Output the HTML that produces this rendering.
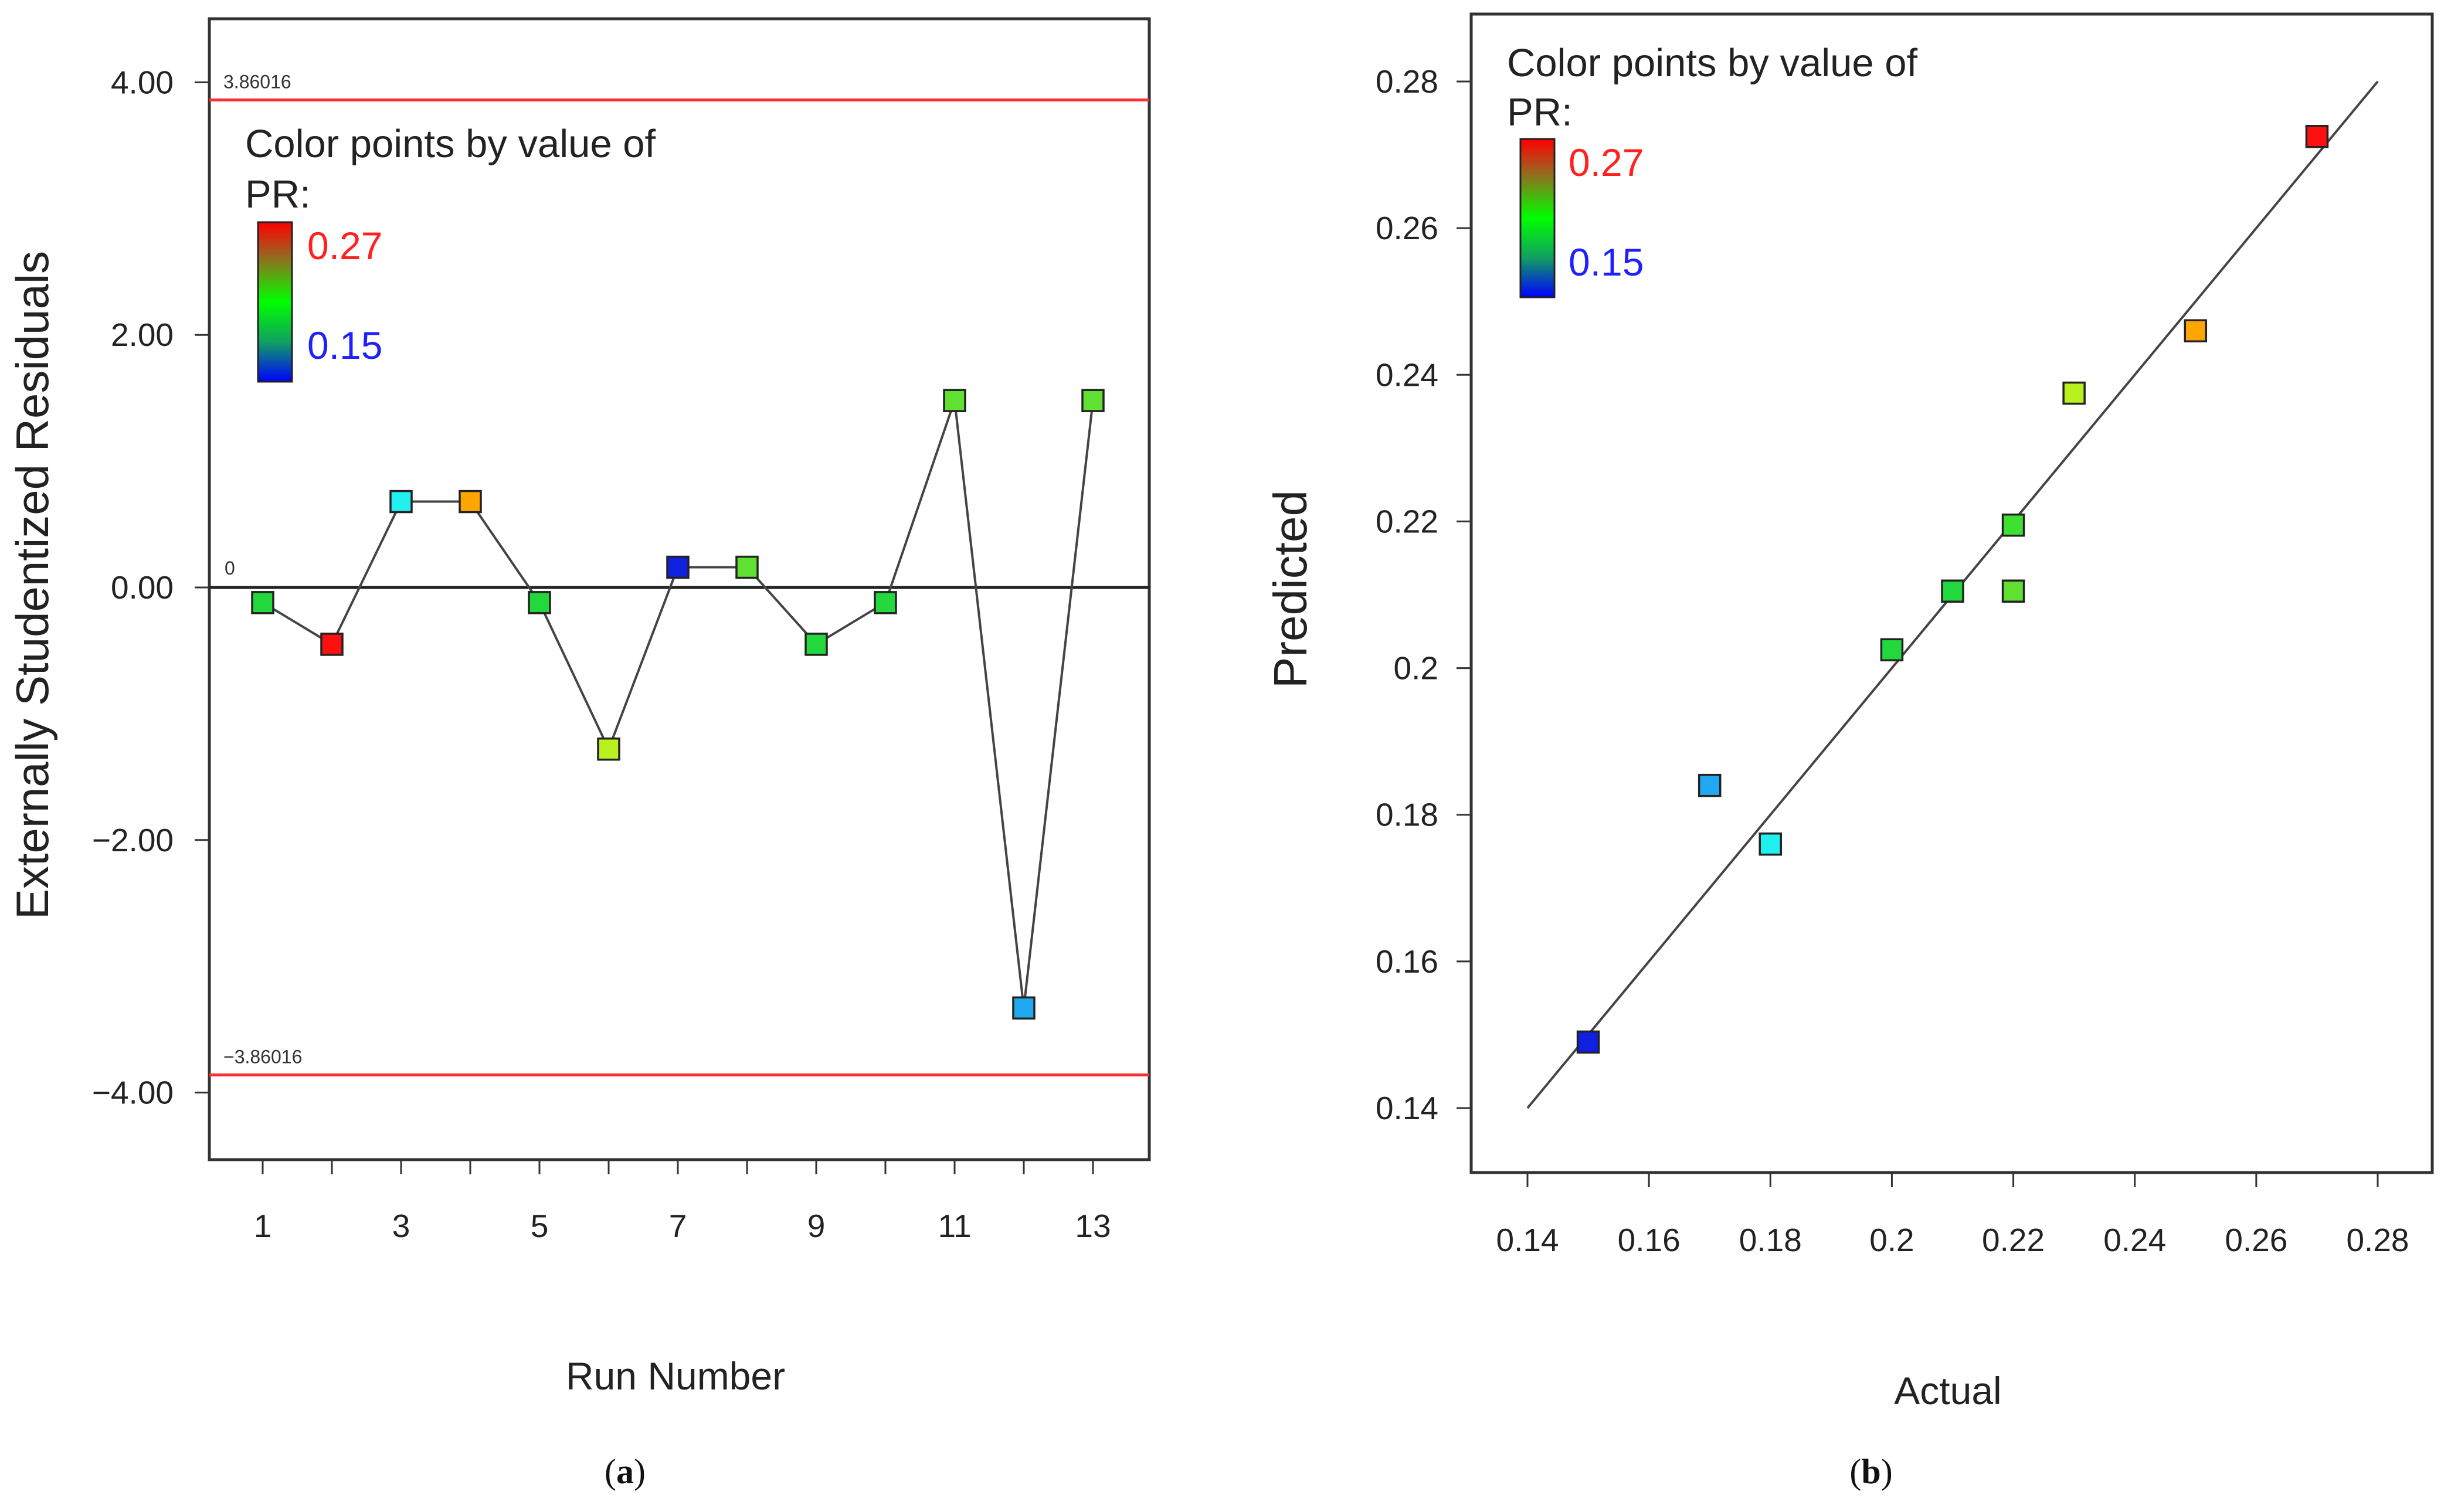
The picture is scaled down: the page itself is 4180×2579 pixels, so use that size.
<!DOCTYPE html>
<html><head><meta charset="utf-8"><style>
html,body{margin:0;padding:0;background:#fff;}
svg{display:block;font-family:"Liberation Sans",Arial,sans-serif;}
</style></head><body>
<svg id="chart" width="4180" height="2579" viewBox="0 0 4180 2579" xmlns="http://www.w3.org/2000/svg">
<defs>
<linearGradient id="cb" x1="0" y1="0" x2="0" y2="1">
<stop offset="0" stop-color="#ff0000"/><stop offset="0.2" stop-color="#a06020"/><stop offset="0.5" stop-color="#00ff00"/><stop offset="0.75" stop-color="#10a060"/><stop offset="1" stop-color="#0000ff"/>
</linearGradient>
</defs>
<g id="pa"></g>
<g id="pb"></g>
</svg>
<script>
const runNumbers=[1,2,3,4,5,6,7,8,9,10,11,12,13];
const residuals=[-0.12,-0.45,0.68,0.68,-0.12,-1.28,0.16,0.16,-0.45,-0.12,1.48,-3.33,1.48];
const residualColors=["#22d83c","#ff1010","#20f0f0","#ffa500","#22d83c","#b8f020","#1020e0","#60e030","#22d83c","#22d83c","#60e030","#20a8f0","#60e030"];
const residualYTicks=[4,2,0,-2,-4];
const residualYLabels=["4.00","2.00","0.00","\u22122.00","\u22124.00"];
const runXTicks=[1,2,3,4,5,6,7,8,9,10,11,12,13];
const limit=3.86016;
const actual=[0.15,0.17,0.18,0.20,0.21,0.22,0.22,0.23,0.25,0.27];
const predicted=[0.149,0.184,0.176,0.2025,0.2105,0.2195,0.2105,0.2375,0.246,0.2725];
const pvColors=["#1020e0","#20a8f0","#20f0f0","#22d83c","#22d83c","#40e030","#60e030","#b8f020","#ffa500","#ff1010"];
const pvTicks=[0.14,0.16,0.18,0.2,0.22,0.24,0.26,0.28];
const pvLabels=["0.14","0.16","0.18","0.2","0.22","0.24","0.26","0.28"];
const NS="http://www.w3.org/2000/svg";
function mk(p,t,a,txt){const e=document.createElementNS(NS,t);for(const k in a)e.setAttribute(k,a[k]);if(txt!==undefined)e.textContent=txt;p.appendChild(e);return e;}
// panel a
const A=document.getElementById('pa');
const ax=v=>448+(v-1)*118, ay=v=>1002-v*215.4;
let e=mk(A,'rect',{x:357,y:32,width:1603,height:1946,fill:'none',stroke:'#333','stroke-width':5});

residualYTicks.forEach((v,i)=>{
 e=mk(A,'line',{x1:332,x2:357,y1:ay(v),y2:ay(v),stroke:'#333','stroke-width':3});
 
 e=mk(A,'text',{x:296,y:ay(v)+19,'font-size':55,'text-anchor':'end',fill:'#222'},residualYLabels[i]);
 
});
runXTicks.forEach(v=>{
 e=mk(A,'line',{x1:ax(v),x2:ax(v),y1:1978,y2:2003,stroke:'#333','stroke-width':3});
 
 if(v%2===1){e=mk(A,'text',{x:ax(v),y:2110,'font-size':55,'text-anchor':'middle',fill:'#222'},String(v));
 }
});
e=mk(A,'line',{x1:357,x2:1960,y1:ay(limit),y2:ay(limit),stroke:'#ff3030','stroke-width':5});

e=mk(A,'line',{x1:357,x2:1960,y1:ay(-limit),y2:ay(-limit),stroke:'#ff3030','stroke-width':5});

e=mk(A,'line',{x1:357,x2:1960,y1:ay(0),y2:ay(0),stroke:'#222','stroke-width':5});

e=mk(A,'text',{x:381,y:ay(limit)-20,'font-size':32,fill:'#333'},'3.86016');

e=mk(A,'text',{x:381,y:ay(-limit)-20,'font-size':32,fill:'#333'},'\u22123.86016');

e=mk(A,'text',{x:383,y:ay(0)-22,'font-size':32,fill:'#333'},'0');

e=mk(A,'polyline',{points:runNumbers.map((r,i)=>ax(r)+','+ay(residuals[i])).join(' '),fill:'none',stroke:'#444','stroke-width':4});

runNumbers.forEach((r,i)=>{
 e=mk(A,'rect',{x:ax(r)-18,y:ay(residuals[i])-18,width:36,height:36,fill:residualColors[i],stroke:'#222','stroke-width':3.5});
 
});
e=mk(A,'text',{x:418,y:268,'font-size':67,fill:'#222'},'Color points by value of');

e=mk(A,'text',{x:418,y:354,'font-size':67,fill:'#222'},'PR:');

e=mk(A,'rect',{x:440,y:379,width:58,height:272,fill:'url(#cb)',stroke:'#222','stroke-width':3});

e=mk(A,'text',{x:524,y:442,'font-size':66,fill:'#ff2020'},'0.27');

e=mk(A,'text',{x:524,y:612,'font-size':66,fill:'#2020ff'},'0.15');

e=mk(A,'text',{x:0,y:0,'font-size':78,'text-anchor':'middle',fill:'#222',transform:'translate(82,998) rotate(-90)'},'Externally Studentized Residuals');

e=mk(A,'text',{x:1152,y:2370,'font-size':66,'text-anchor':'middle',fill:'#222'},'Run Number');

e=mk(A,'text',{x:1066,y:2530,'font-size':60,'text-anchor':'middle',fill:'#111','font-family':'Liberation Serif,serif'},'');
e.innerHTML='(<tspan font-weight="bold">a</tspan>)';

// panel b
const B=document.getElementById('pb');
const bx=v=>2605+(v-0.14)/0.14*1450, by=v=>1890-(v-0.14)/0.14*1751;
e=mk(B,'rect',{x:2509,y:24,width:1639,height:1976,fill:'none',stroke:'#333','stroke-width':5});

pvTicks.forEach((v,i)=>{
 e=mk(B,'line',{x1:2484,x2:2509,y1:by(v),y2:by(v),stroke:'#333','stroke-width':3});
 
 e=mk(B,'text',{x:2453,y:by(v)+19,'font-size':55,'text-anchor':'end',fill:'#222'},pvLabels[i]);
 
 e=mk(B,'line',{x1:bx(v),x2:bx(v),y1:2000,y2:2025,stroke:'#333','stroke-width':3});
 
 e=mk(B,'text',{x:bx(v),y:2134,'font-size':55,'text-anchor':'middle',fill:'#222'},pvLabels[i]);
 
});
e=mk(B,'line',{x1:bx(0.14),y1:by(0.14),x2:bx(0.28),y2:by(0.28),stroke:'#444','stroke-width':4});

actual.forEach((a,i)=>{
 e=mk(B,'rect',{x:bx(a)-18,y:by(predicted[i])-18,width:36,height:36,fill:pvColors[i],stroke:'#222','stroke-width':3.5});
 
});
e=mk(B,'text',{x:2570,y:130,'font-size':67,fill:'#222'},'Color points by value of');

e=mk(B,'text',{x:2570,y:214,'font-size':67,fill:'#222'},'PR:');

e=mk(B,'rect',{x:2593,y:237,width:58,height:270,fill:'url(#cb)',stroke:'#222','stroke-width':3});

e=mk(B,'text',{x:2675,y:300,'font-size':66,fill:'#ff2020'},'0.27');

e=mk(B,'text',{x:2675,y:470,'font-size':66,fill:'#2020ff'},'0.15');

e=mk(B,'text',{x:0,y:0,'font-size':80,'text-anchor':'middle',fill:'#222',transform:'translate(2228,1005) rotate(-90)'},'Predicted');

e=mk(B,'text',{x:3322,y:2395,'font-size':66,'text-anchor':'middle',fill:'#222'},'Actual');

e=mk(B,'text',{x:3191,y:2530,'font-size':60,'text-anchor':'middle',fill:'#111','font-family':'Liberation Serif,serif'},'');
e.innerHTML='(<tspan font-weight="bold">b</tspan>)';

</script>
</body></html>
